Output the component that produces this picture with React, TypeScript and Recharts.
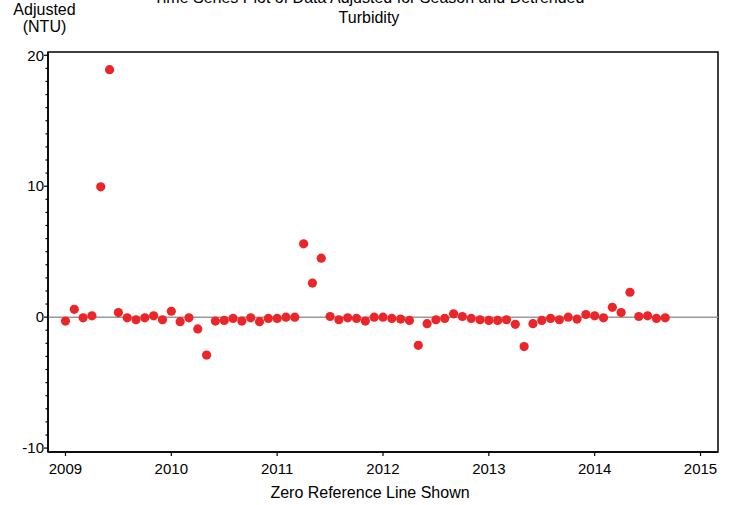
import React from "react";
import {
  ScatterChart,
  Scatter,
  XAxis,
  YAxis,
  ReferenceLine,
  ReferenceArea,
} from "recharts";

// monthly series, Jan 2009 .. Sep 2014
const startYear = 2009;
const adjustedValues = [
  -0.3, 0.6, -0.05, 0.1, 9.95, 18.9, 0.35, -0.05, -0.2, -0.05, 0.1, -0.2,
  0.45, -0.35, -0.05, -0.9, -2.9, -0.3, -0.25, -0.1, -0.3, -0.05, -0.35, -0.1,
  -0.1, 0.0, 0.0, 5.6, 2.6, 4.5, 0.05, -0.2, -0.05, -0.1, -0.3, 0.0,
  0.0, -0.1, -0.15, -0.25, -2.15, -0.5, -0.2, -0.1, 0.25, 0.05, -0.1, -0.2,
  -0.25, -0.25, -0.2, -0.55, -2.25, -0.5, -0.25, -0.1, -0.2, 0.0, -0.15, 0.2,
  0.1, -0.05, 0.75, 0.35, 1.9, 0.05, 0.1, -0.1, -0.05,
];
const yearTicks = [2009, 2010, 2011, 2012, 2013, 2014, 2015];
const yMajorTicks = [-10, 0, 10, 20];
const yAllTicks = Array.from({ length: 31 }, (_, i) => i - 10);

const FONT = "'Liberation Sans', Arial, Helvetica, sans-serif";
const RED = "#EC2529";

const data = adjustedValues.map((v, i) => ({ t: startYear + i / 12, v }));

const YTick = (props: any) => {
  const { x, y, payload } = props;
  const major = yMajorTicks.includes(payload.value);
  return (
    <g>
      <line
        x1={x}
        x2={x - (major ? 4 : 2.5)}
        y1={y}
        y2={y}
        stroke="#000"
        strokeWidth={1.2}
      />
      {major && (
        <text
          x={x - 4}
          y={y}
          dy="0.35em"
          textAnchor="end"
          fontSize={15}
          fontFamily={FONT}
          fill="#000"
        >
          {payload.value}
        </text>
      )}
    </g>
  );
};

const XTick = (props: any) => {
  const { x, y, payload } = props;
  return (
    <g>
      <line x1={x} x2={x} y1={y} y2={y + 4} stroke="#000" strokeWidth={1.2} />
      <text
        x={x}
        y={y + 11}
        dy="0.71em"
        textAnchor="middle"
        fontSize={15}
        fontFamily={FONT}
        fill="#000"
      >
        {payload.value}
      </text>
    </g>
  );
};

const Dot = (props: any) => {
  const { cx, cy } = props;
  return <circle cx={cx} cy={cy} r={4.6} fill={RED} />;
};

export default function App() {
  return (
    <div
      style={{
        position: "absolute",
        top: 0,
        left: 0,
        width: 735,
        height: 505,
        background: "#fff",
        fontFamily: FONT,
      }}
    >
      <ScatterChart
        width={735}
        height={505}
        margin={{ top: 52, right: 17, bottom: 0, left: 0 }}
      >
        <XAxis
          type="number"
          dataKey="t"
          domain={[2008.835, 2015.165]}
          ticks={yearTicks}
          allowDataOverflow
          height={53}
          tickSize={0}
          tickMargin={0}
          tickLine={false}
          axisLine={{ stroke: "#000", strokeWidth: 1.5 }}
          tick={<XTick />}
          interval={0}
        />
        <YAxis
          type="number"
          dataKey="v"
          domain={[-10.3, 20.25]}
          ticks={yAllTicks}
          allowDataOverflow
          width={48}
          tickSize={0}
          tickMargin={0}
          tickLine={false}
          axisLine={{ stroke: "#000", strokeWidth: 1.5 }}
          tick={<YTick />}
          interval={0}
        />
        <ReferenceArea
          x1={2008.835}
          x2={2015.165}
          y1={-10.3}
          y2={20.25}
          fill="none"
          stroke="#000"
          strokeWidth={1.5}
          ifOverflow="visible"
        />
        <ReferenceLine y={0} stroke="#999" strokeWidth={1.5} />
        <Scatter data={data} shape={<Dot />} isAnimationActive={false} />
      </ScatterChart>
      <svg
        width={735}
        height={505}
        style={{ position: "absolute", top: 0, left: 0, pointerEvents: "none" }}
      >
        <g fontFamily={FONT} fontSize={16} fill="#000" textAnchor="middle">
          <text x={369} y={3}>
            Time Series Plot of Data Adjusted for Season and Detrended
          </text>
          <text x={369} y={23}>
            Turbidity
          </text>
          <text x={44.5} y={15}>
            Adjusted
          </text>
          <text x={44.5} y={32}>
            (NTU)
          </text>
          <text x={370} y={498}>
            Zero Reference Line Shown
          </text>
        </g>
      </svg>
    </div>
  );
}
